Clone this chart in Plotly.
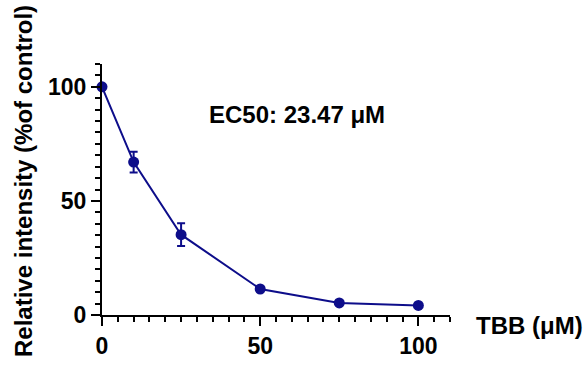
import plotly.graph_objects as go

conc = [0, 10, 25, 50, 75, 100]
intensity = [100, 67, 35.2, 11.4, 5.3, 4.2]
err = [0, 4.5, 5, 0.6, 0.5, 0.5]
tick_vals = [0, 50, 100]
tick_text = ["0", "50", "100"]
y_title = "Relative intensity (%of control)"
x_title = "TBB (μM)"
ec50_label = "EC50: 23.47 μM"

color = "#0d0d8a"
font = "Arial, Liberation Sans, sans-serif"

fig = go.Figure()
fig.add_trace(go.Scatter(
    x=conc, y=intensity, mode="lines+markers",
    line=dict(color=color, width=2),
    marker=dict(color=color, size=11),
    error_y=dict(type="data", array=err, visible=True, color=color, thickness=2, width=4),
    cliponaxis=False, showlegend=False, hoverinfo="skip",
))

axis_common = dict(
    showline=True, linecolor="black", linewidth=2,
    ticks="outside", ticklen=9, tickwidth=2, tickcolor="black",
    showgrid=False, zeroline=False,
    tickmode="array", tickvals=tick_vals,
    ticktext=["<b>" + t + "</b>" for t in tick_text],
    range=[0, 110], automargin=False,
    tickfont=dict(family=font, size=23, color="black"),
    minor=dict(ticks="outside", ticklen=5, tickwidth=2, tickcolor="black",
               tickmode="linear", tick0=0, dtick=5),
)
fig.update_layout(xaxis=axis_common, yaxis=axis_common)

fig.add_annotation(text="<b>" + ec50_label + "</b>", xref="x", yref="y", x=61.5, y=88,
                   showarrow=False, font=dict(family=font, size=24, color="black"))
fig.add_annotation(text="<b>" + x_title + "</b>", xref="paper", yref="paper", x=1.0, y=-0.04,
                   xanchor="left", yanchor="middle", xshift=24, showarrow=False,
                   font=dict(family=font, size=24, color="black"))
fig.add_annotation(text="<b>" + y_title + "</b>", xref="paper", yref="paper",
                   x=0, y=0.5, xshift=-94, yshift=8, textangle=-90, showarrow=False,
                   font=dict(family=font, size=24, color="black"))

fig.update_layout(
    width=585, height=366,
    margin=dict(l=102, r=135, t=64, b=51),
    plot_bgcolor="white", paper_bgcolor="white",
)
fig.write_html("out.html", config={"displayModeBar": False})

with open("out.html", "r", encoding="utf-8") as f:
    html = f.read()
html = html.replace("<head>", "<head><style>html,body{margin:0;padding:0;overflow:hidden;}</style>", 1)
with open("out.html", "w", encoding="utf-8") as f:
    f.write(html)
